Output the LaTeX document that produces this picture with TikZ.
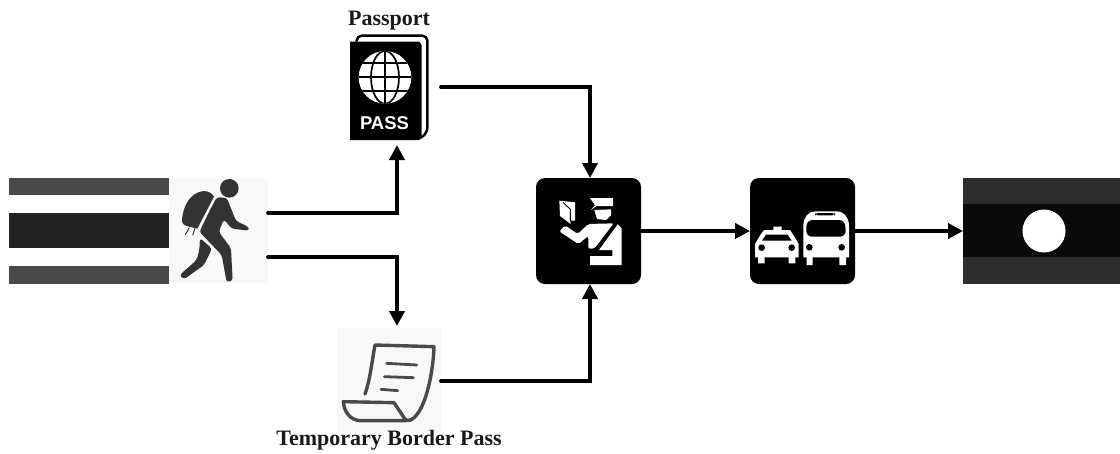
\documentclass[tikz,border=0pt]{standalone}
\usepackage{fontspec}
\setmainfont{Liberation Serif}
\newfontfamily\passfont{Liberation Sans}
\usetikzlibrary{arrows.meta}
\definecolor{thaiouter}{HTML}{494949}
\definecolor{thaimid}{HTML}{222222}
\definecolor{laoouter}{HTML}{2D2D2D}
\definecolor{laomid}{HTML}{0A0A0A}
\definecolor{iconbg}{HTML}{F8F8F8}
\definecolor{iconink}{HTML}{333333}
\definecolor{paperink}{HTML}{4A4A4A}
\tikzset{
  x=1pt,y=-1pt,
  blockbox/.style={rectangle,inner sep=0pt,outer sep=0pt,draw=none,anchor=north west},
  iconbox/.style={blockbox,fill=black,rounded corners=9pt,minimum width=105pt,minimum height=106pt},
  flow/.style={line width=3.8pt,line cap=round,-{Triangle[width=15pt,length=15pt]}},
  caption/.style={font=\bfseries\fontsize{22}{24}\selectfont,inner sep=0pt,text=black!90}
}
\begin{document}
\begin{tikzpicture}
\useasboundingbox (0,0) rectangle (1120,453);
% Thai flag
\node[blockbox,fill=thaiouter,minimum width=160pt,minimum height=17pt] (thaitop) at (9,178) {};
\node[blockbox,fill=thaimid,minimum width=160pt,minimum height=35pt] (thaimidband) at (9,213) {};
\node[blockbox,fill=thaiouter,minimum width=160pt,minimum height=18pt] (thaibot) at (9,265.5) {};
% Walker
\node[blockbox,fill=iconbg,minimum width=99pt,minimum height=104pt] (walker) at (169,179) {};
\begin{scope}[shift={(0,160)},scale=1/3]
  \fill[iconink] (688,85) circle (28);
  \fill[iconink] (546,178) .. controls (550,135) and (572,98) .. (610,93)
    .. controls (626,93) and (636,100) .. (642,110) -- (592,206) -- (560,198) .. controls (550,195) and (545,188) .. (546,178) -- cycle;
  \draw[iconink,line width=1pt] (568,203) -- (556,224) (585,205) -- (578,226);
  \fill[iconink,rounded corners=3pt] (650,112) -- (680,113) -- (695,150) -- (708,183) -- (745,200) -- (747,212) -- (695,206)
    -- (672,178) -- (656,215) -- (693,265) -- (698,362) -- (680,367) -- (665,285) -- (618,236) -- (598,216) -- (625,160) -- cycle;
  \fill[iconink,rounded corners=3pt] (600,234) -- (636,266) -- (612,315) -- (552,358) -- (538,346) -- (590,300) -- (598,270) -- cycle;
\end{scope}
% Passport
\node[blockbox,minimum width=78pt,minimum height=105pt] (passport) at (350,35) {};
\begin{scope}[shift={(320,0)},scale=1/3]
  \draw[black,line width=2.4pt,rounded corners=5pt] (110,125) -- (110,107) -- (322,107) -- (322,398) -- (300,415);
  \fill[black] (90,125) -- (112,125) -- (298,125) -- (305,135) -- (305,405) -- (298,420) -- (90,420) -- cycle;
  \fill[white] (195,232) circle (79);
  \begin{scope}
    \clip (195,232) circle (79);
    \draw[black,line width=1.7pt] (195,232) ellipse (42 and 79);
    \draw[black,line width=1.7pt] (195,150) -- (195,315);
    \draw[black,line width=1.7pt] (110,232) -- (280,232) (110,190) -- (280,190) (110,274) -- (280,274);
  \end{scope}
\end{scope}
\node[font=\passfont\bfseries\fontsize{18.5}{18}\selectfont,text=white,inner sep=0pt] (passlabel) at (384.5,123.5) {PASS};
\node[caption,anchor=base] (passportlabel) at (389,25) {Passport};
% Temporary pass
\node[blockbox,fill=iconbg,minimum width=104pt,minimum height=104pt] (temp) at (337,328) {};
\begin{scope}[shift={(270,320)},scale=1/3]
  \draw[paperink,line width=3.4pt,line cap=round,line join=round]
    (285,222) .. controls (300,180) and (305,130) .. (315,75) -- (492,80)
    .. controls (490,150) and (470,260) .. (432,293) .. controls (422,302) and (415,303) .. (408,300);
  \draw[paperink,line width=3.4pt,line join=round]
    (220,245) -- (372,248) -- (408,302) -- (270,302) .. controls (240,300) and (222,275) .. (220,245) -- cycle;
  \draw[paperink,line width=2.8pt,line cap=round] (350,130) -- (440,135) (343,170) -- (430,173) (333,208) -- (383,212);
\end{scope}
\node[caption,anchor=base] (templabel) at (389,445) {Temporary Border Pass};
% Officer
\node[iconbox] (officer) at (536,178) {};
\begin{scope}[shift={(525,170)},scale=1/3]
  \fill[white] (103,92) -- (150,97) -- (150,152) -- (137,152) -- (137,162) -- (105,138) -- cycle;
  \draw[black,line width=0.9pt] (114,97) -- (136,118) -- (136,155);
  \fill[white] (195,84) -- (264,84) -- (264,108) -- (215,108) -- (197,120) -- (210,106) -- cycle;
  \fill[white] (208,120) -- (258,118) -- (258,136) -- (243,150) -- (216,147) -- cycle;
  \fill[white,rounded corners=2pt] (103,184) -- (120,166) -- (158,192) -- (190,162) -- (266,160) -- (208,236) -- (190,236) -- (190,198) -- (160,222) -- cycle;
  \fill[white] (278,163) -- (290,175) -- (290,285) -- (195,285) -- (195,258) -- (262,258) -- (262,240) -- (222,240) -- cycle;
\end{scope}
% Transport
\node[iconbox] (transport) at (750,178) {};
\begin{scope}[shift={(740,170)},scale=1/3]
  % taxi
  \fill[white] (100,170) -- (125,170) -- (125,180) -- (150,180) .. controls (160,195) and (170,210) .. (176,222) -- (176,262) -- (166,262) -- (166,280) -- (146,280) -- (146,262) -- (74,262) -- (74,280) -- (54,280) -- (54,262) -- (45,262) -- (45,222) .. controls (52,210) and (60,195) .. (72,180) -- (100,180) -- cycle;
  \fill[black] (78,194) -- (143,194) -- (155,212) -- (66,212) -- cycle;
  \fill[black] (65,233) circle (10) (155,233) circle (10);
  % bus
  \fill[white] (190,262) -- (190,165) .. controls (192,140) and (205,125) .. (225,124) -- (290,124) .. controls (312,125) and (325,140) .. (327,165) -- (327,262) -- (318,262) -- (318,285) -- (298,285) -- (298,262) -- (218,262) -- (218,285) -- (200,285) -- (200,262) -- cycle;
  \fill[black,rounded corners=3pt] (225,129) rectangle (285,136);
  \fill[black,rounded corners=6pt] (198,200) -- (200,150) -- (315,150) -- (318,200) -- cycle;
  \fill[black] (208,232) circle (10) (305,232) circle (10);
\end{scope}
% Lao flag
\node[blockbox,fill=laoouter,minimum width=157pt,minimum height=106pt] (lao) at (963,178) {};
\node[blockbox,fill=laomid,minimum width=157pt,minimum height=53pt] (laomidband) at (963,204.3) {};
\node[circle,fill=white,inner sep=0pt,minimum size=43pt] (laomoon) at (1044,231) {};
% Connectors
\draw[flow] ([yshift=18pt]walker.east) -| ([xshift=8pt,yshift=-5pt]passport.south);
\draw[flow] ([yshift=-26pt]walker.east) -| ([xshift=8pt,yshift=2pt]temp.north);
\draw[flow] ([xshift=13pt,yshift=0.5pt]passport.east) -| ([xshift=1.5pt]officer.north);
\draw[flow] ([yshift=-1pt]temp.east) -| ([xshift=1.5pt]officer.south);
\draw[flow] (officer.east) -- (transport.west);
\draw[flow] (transport.east) -- (lao.west);
\end{tikzpicture}
\end{document}
